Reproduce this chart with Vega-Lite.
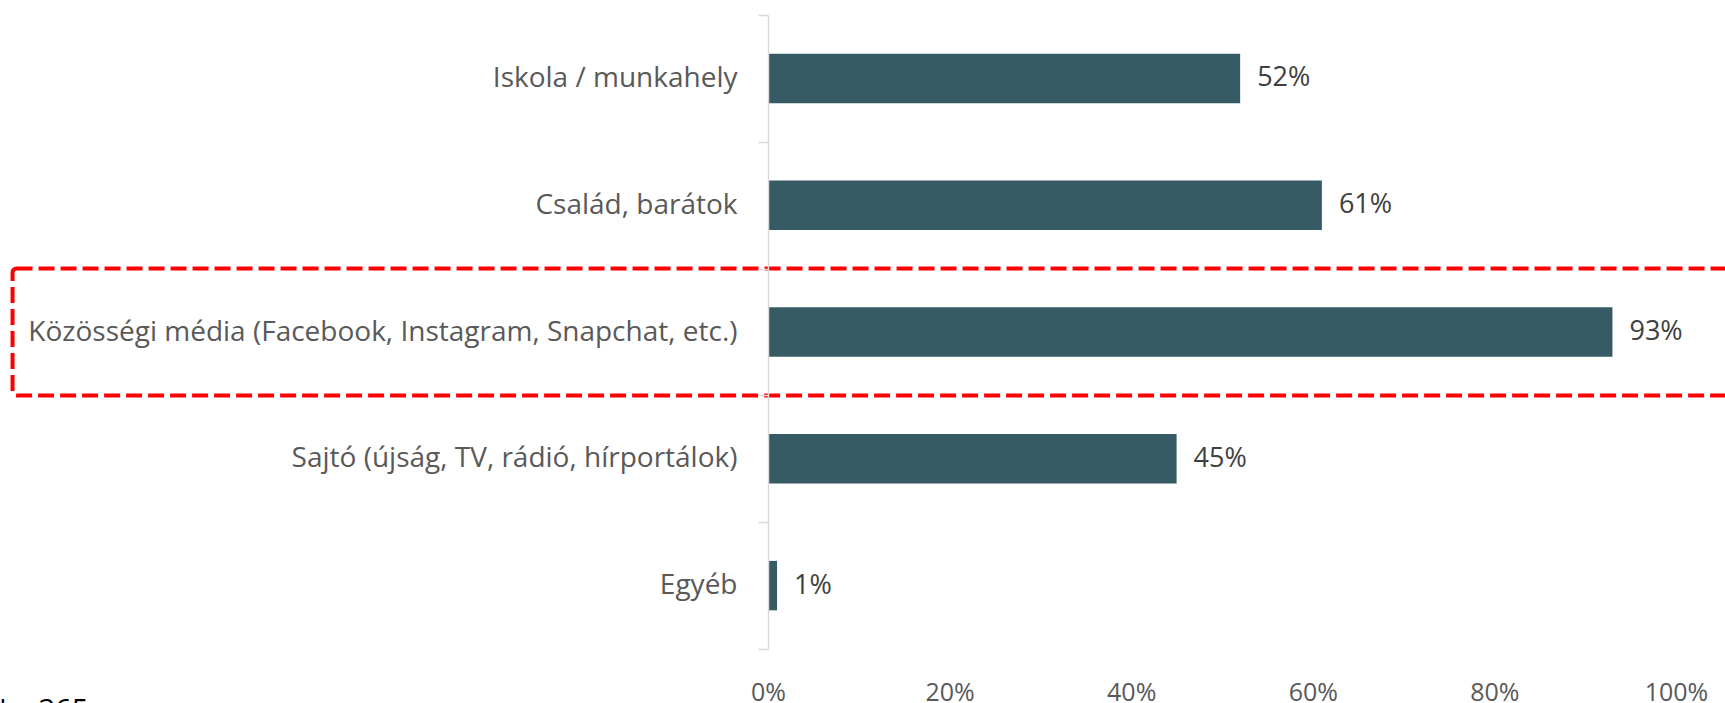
{
  "$schema": "https://vega.github.io/schema/vega-lite/v6.json",
  "autosize": "none",
  "width": 908,
  "height": 634,
  "padding": {"left": 768, "top": 15, "right": 49, "bottom": 54},
  "background": "white",
  "config": {"view": {"stroke": null}, "font": "Open Sans"},
  "title": {"text": "N = 365", "orient": "bottom", "anchor": "start", "frame": "group", "dx": -783, "offset": -8, "fontSize": 29, "fontWeight": "normal", "color": "#000000", "font": "Open Sans"},
  "datasets": {
    "main": [
      {"cat": "Iskola / munkahely", "value": 0.52, "label": "52%"},
      {"cat": "Család, barátok", "value": 0.61, "label": "61%"},
      {"cat": "Közösségi média (Facebook, Instagram, Snapchat, etc.)", "value": 0.93, "label": "93%"},
      {"cat": "Sajtó (újság, TV, rádió, hírportálok)", "value": 0.45, "label": "45%"},
      {"cat": "Egyéb", "value": 0.01, "label": "1%"}
    ],
    "highlight": [
      {"cat": "Közösségi média (Facebook, Instagram, Snapchat, etc.)", "start": -0.832, "end": 1.1}
    ]
  },
  "layer": [
    {
      "data": {"name": "main"},
      "encoding": {
        "y": {
          "field": "cat", "type": "nominal", "sort": null,
          "scale": {"paddingInner": 0.61, "paddingOuter": 0.305},
          "axis": null
        },
        "x": {
          "field": "value", "type": "quantitative",
          "scale": {"domain": [0, 1]},
          "axis": {
            "title": null, "format": ".0%", "values": [0, 0.2, 0.4, 0.6, 0.8, 1],
            "domain": false, "ticks": false, "grid": false, "labelFlush": false,
            "labelFontSize": 25, "labelColor": "#595959", "labelPadding": 51, "labelBaseline": "alphabetic",
            "labelFont": "Open Sans"
          }
        }
      },
      "layer": [
        {"mark": {"type": "bar", "color": "#375B64"}},
        {
          "mark": {"type": "text", "align": "left", "baseline": "middle", "dx": 17, "fontSize": 27, "color": "#404040", "font": "Open Sans"},
          "encoding": {"text": {"field": "label"}}
        }
      ]
    },
    {
      "data": {"name": "highlight"},
      "mark": {"type": "rect", "clip": false, "fill": null, "stroke": "#FF0000", "strokeWidth": 4, "strokeDash": [16, 6], "cornerRadius": 4},
      "encoding": {
        "y": {
          "field": "cat", "type": "nominal",
          "scale": {"domain": ["Iskola / munkahely", "Család, barátok", "Közösségi média (Facebook, Instagram, Snapchat, etc.)", "Sajtó (újság, TV, rádió, hírportálok)", "Egyéb"], "paddingInner": 0, "paddingOuter": 0},
          "axis": {
            "orient": "left", "title": null, "domainColor": "#D9D9D9", "domainWidth": 1.5,
            "tickColor": "#D9D9D9", "tickSize": 10, "tickWidth": 1.5, "tickBand": "extent",
            "labelFontSize": 28, "labelColor": "#595959", "labelPadding": 21, "labelLimit": 900,
            "labelFont": "Open Sans"
          }
        },
        "x": {"field": "start", "type": "quantitative", "scale": {"domain": [0, 1]}},
        "x2": {"field": "end"}
      }
    }
  ],
  "resolve": {"scale": {"y": "independent"}}
}
